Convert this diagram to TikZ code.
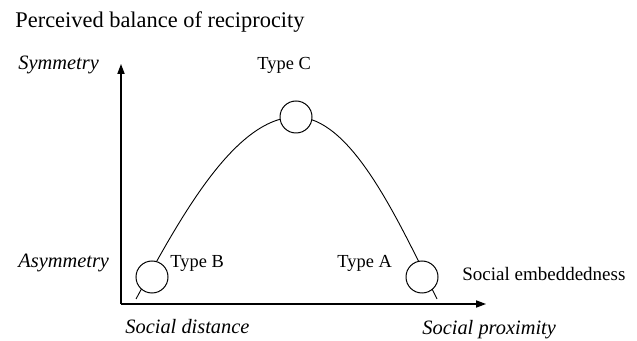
\documentclass[tikz,border=0pt]{standalone}
\usepackage{fontspec}
\setmainfont{Liberation Serif}
\usepackage{tikz}
\usetikzlibrary{arrows.meta, positioning}

\begin{document}
\begin{tikzpicture}[
      x=0.5pt, y=-0.5pt,
      axis/.style={line width=0.6pt, -{Triangle[length=5pt, width=3.6pt]}},
      typecircle/.style={circle, draw, line width=0.5pt, fill=white, minimum size=16pt, inner sep=0pt},
      axislabel/.style={font=\fontsize{10.2}{12}\selectfont\itshape, inner sep=0pt},
      typelabel/.style={font=\fontsize{9.2}{11}\selectfont, inner sep=0pt}
    ]
      \useasboundingbox (0,0) rectangle (637,341);
      % axes
      \coordinate (origin) at (121,304);
      \coordinate (ytip) at (121,64);
      \coordinate (xtip) at (486,304);
      \draw[axis] (origin) -- (ytip);
      \draw[axis] (origin) -- (xtip);
      % curve through the three types
      \coordinate (tailB) at (136,299);
      \coordinate (peak) at (296,117);
      \coordinate (tailA) at (437,299);
      \draw[line width=0.45pt] (tailB) .. controls (180,218) and (235,117) .. (peak)
        .. controls (350,117) and (395,213) .. (tailA);
      \node[typecircle] (typeB) at (152,277) {};
      \node[typecircle] (typeC) at (296,117) {};
      \node[typecircle] (typeA) at (422,277) {};
      % labels
      \node[anchor=base west, inner sep=0pt, font=\fontsize{11.2}{13}\selectfont] (title) at (15,28) {Perceived balance of reciprocity};
      \node[axislabel, anchor=base west] (sym) at (18,70) {Symmetry};
      \node[axislabel, anchor=base west] (asym) at (18,268) {Asymmetry};
      \node[axislabel, anchor=base west] (dist) at (125,334) {Social distance};
      \node[axislabel, anchor=base west] (prox) at (422,335) {Social proximity};
      \node[typelabel, anchor=base west] (labC) at (257,70) {Type C};
      \node[typelabel, anchor=base west] (labB) at (170,268) {Type B};
      \node[typelabel, anchor=base west] (labA) at (337,268) {Type A};
      \node[anchor=base west, inner sep=0pt, font=\fontsize{9.5}{11}\selectfont] (embed) at (462,281) {Social embeddedness};
    \end{tikzpicture}
\end{document}
